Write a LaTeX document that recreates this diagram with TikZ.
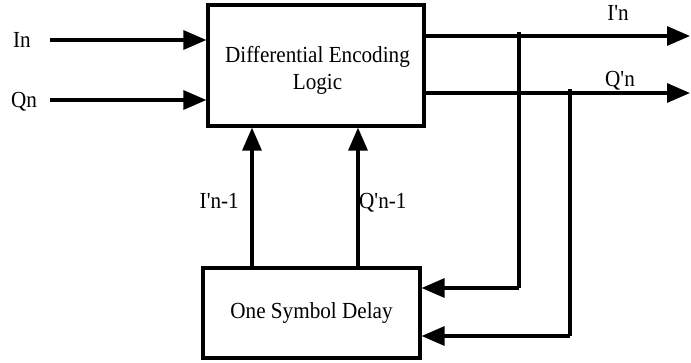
\documentclass[tikz,border=0pt]{standalone}
\usepackage{fontspec}
\setmainfont{Liberation Serif}[Ligatures=TeXOff,FakeStretch=0.92]
\usetikzlibrary{arrows.meta}
\begin{document}
\begin{tikzpicture}[x=1pt,y=-1pt,
  blk/.style={draw,line width=3.2pt,minimum width=#1,inner sep=0pt},
  txt/.style={font=\fontsize{23}{27}\selectfont,inner sep=0pt,align=center},
  wire/.style={line width=3.2pt},
  arr/.style={line width=3.2pt,-{Triangle[length=23pt,width=19pt]}},
  lbl/.style={font=\fontsize{23}{27}\selectfont,inner sep=0pt}]
\useasboundingbox (0,0) rectangle (691,362);
\node[blk=216pt,minimum height=121pt] (del) at (316,65.5) {};
\node[txt] (delT) at (317.5,70.7) {Differential Encoding\\Logic};
\node[blk=217pt,minimum height=90pt,txt,draw,line width=3.2pt,minimum width=217pt] (dly) at (311.5,313) {One Symbol Delay};
% inputs
\coordinate (inI) at (50,40);
\coordinate (inQ) at (50,100);
\node[lbl,anchor=base] (lIn) at (22,47) {In};
\node[lbl,anchor=base] (lQn) at (24,107.5) {Qn};
\draw[arr] (inI) -- (inI -| del.west);
\draw[arr] (inQ) -- (inQ -| del.west);
% outputs
\coordinate (outI) at (690,36);
\coordinate (outQ) at (690,93);
\draw[arr] (outI -| del.east) -- (outI);
\draw[arr] (outQ -| del.east) -- (outQ);
\node[lbl,anchor=base] (lIo) at (618,20) {I'n};
\node[lbl,anchor=base] (lQo) at (620,86) {Q'n};
% taps
\coordinate (tapI) at (519,32);
\coordinate (tapQ) at (570,89);
\coordinate (cI) at (519,288);
\coordinate (cQ) at (570,336);
\draw[wire] (tapI) -- (cI);
\draw[arr] (cI) -- (cI -| dly.east);
\draw[wire] (tapQ) -- (cQ);
\draw[arr] (cQ) -- (cQ -| dly.east);
% feedback
\coordinate (fI) at (252,0);
\coordinate (fQ) at (358,0);
\draw[arr] (fI |- dly.north) -- (fI |- del.south);
\draw[arr] (fQ |- dly.north) -- (fQ |- del.south);
\node[lbl,anchor=base east] (lI1) at (239,208) {I'n-1};
\node[lbl,anchor=base west] (lQ1) at (359,208) {Q'n-1};
\end{tikzpicture}
\end{document}
